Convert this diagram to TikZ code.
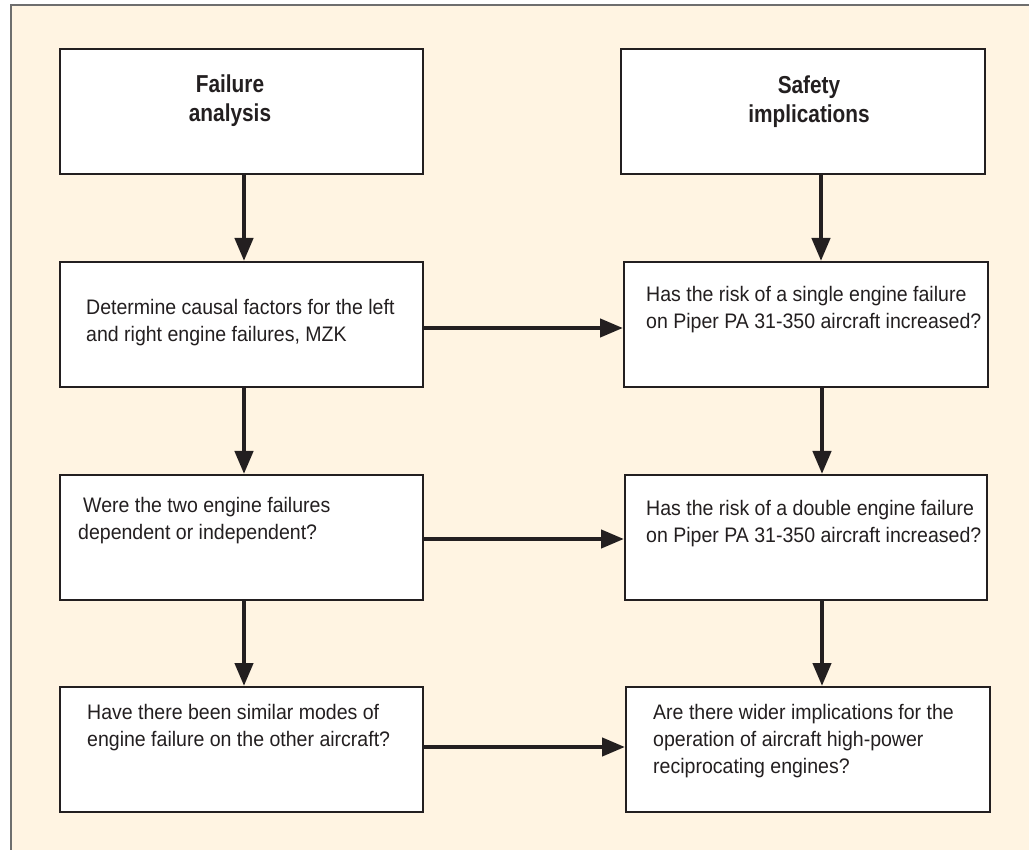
\documentclass[tikz,border=0pt]{standalone}
\usepackage{fontspec}
\setmainfont{Liberation Sans}
\newfontfamily\bodyfont[FakeStretch=0.93]{Liberation Sans}
\newfontfamily\headfont[FakeStretch=0.85]{Liberation Sans}
\usetikzlibrary{arrows.meta}
\definecolor{cream}{RGB}{255,244,226}
\definecolor{ink}{RGB}{35,31,32}
\definecolor{framegray}{RGB}{110,110,110}
\setlength{\parindent}{0pt}
\newcommand{\boxlines}[1]{\parbox[t]{360pt}{\raggedright #1}}
\newcommand{\headlines}[1]{\parbox[t]{300pt}{\centering #1}}
\begin{document}
\begin{tikzpicture}[x=1pt,y=-1pt,
  box/.style={draw=ink, line width=2pt, fill=white, inner sep=0pt, minimum height=125pt},
  arr/.style={draw=ink, line width=4.3pt, -{Triangle[length=23pt,width=18pt]}},
  bodytext/.style={anchor=base west, inner sep=0pt, text=ink, font=\bodyfont\fontsize{21}{27}\selectfont},
  headtext/.style={anchor=base, inner sep=0pt, text=ink, font=\headfont\bfseries\fontsize{24.5}{29}\selectfont}]
\useasboundingbox (0,0) rectangle (1029,850);
% panel background and its frame
\fill[white] (0,0) rectangle (1029,850);
\fill[cream] (11,5) rectangle (1029,850);
\draw[framegray, line width=1.3pt] (11,850) -- (11,5) -- (1029,5);

% left column
\node[box, minimum width=363pt] (l1) at (241.5,111.5) {};
\node[box, minimum width=363pt] (l2) at (241.5,324.5) {};
\node[box, minimum width=363pt] (l3) at (241.5,537.5) {};
\node[box, minimum width=363pt] (l4) at (241.5,749.5) {};
% right column
\node[box, minimum width=364pt] (r0) at (803,111.5) {};
\node[box, minimum width=364pt] (r1) at (806,324.5) {};
\node[box, minimum width=362pt] (r2) at (806,537.5) {};
\node[box, minimum width=364pt] (r3) at (808,749.5) {};

% texts
\node[headtext] (l1t) at (230,93) {\headlines{Failure\\analysis}};
\node[headtext] (r0t) at (809,94) {\headlines{Safety\\implications}};
\node[bodytext] (l2t) at (86,315) {\boxlines{Determine causal factors for the left\\and right engine failures, MZK}};
\node[bodytext] (r1t) at (646,302) {\boxlines{Has the risk of a single engine failure\\on Piper PA 31-350 aircraft increased?}};
\node[bodytext] (l3t) at (78,512) {\boxlines{\hspace*{5pt}Were the two engine failures\\dependent or independent?}};
\node[bodytext] (r2t) at (646,515) {\boxlines{Has the risk of a double engine failure\\on Piper PA 31-350 aircraft increased?}};
\node[bodytext] (l4t) at (87,719) {\boxlines{Have there been similar modes of\\engine failure on the other aircraft?}};
\node[bodytext] (r3t) at (653,719) {\boxlines{Are there wider implications for the\\operation of aircraft high-power\\reciprocating engines?}};

% vertical connectors
\draw[arr] ([xshift=2.5pt]l1.south) -- ([xshift=2.5pt]l1.south |- l2.north);
\draw[arr] ([xshift=2.5pt]l2.south) -- ([xshift=2.5pt]l2.south |- l3.north);
\draw[arr] ([xshift=2.5pt]l3.south) -- ([xshift=2.5pt]l3.south |- l4.north);
\draw[arr] ([xshift=18pt]r0.south) -- ([xshift=18pt]r0.south |- r1.north);
\draw[arr] ([xshift=16pt]r1.south) -- ([xshift=16pt]r1.south |- r2.north);
\draw[arr] ([xshift=16pt]r2.south) -- ([xshift=16pt]r2.south |- r3.north);

% horizontal connectors
\draw[arr] ([yshift=-3.5pt]l2.east) -- ([yshift=-3.5pt]l2.east -| r1.west);
\draw[arr] ([yshift=-1.5pt]l3.east) -- ([yshift=-1.5pt]l3.east -| r2.west);
\draw[arr] ([yshift=2.5pt]l4.east) -- ([yshift=2.5pt]l4.east -| r3.west);
\end{tikzpicture}
\end{document}
